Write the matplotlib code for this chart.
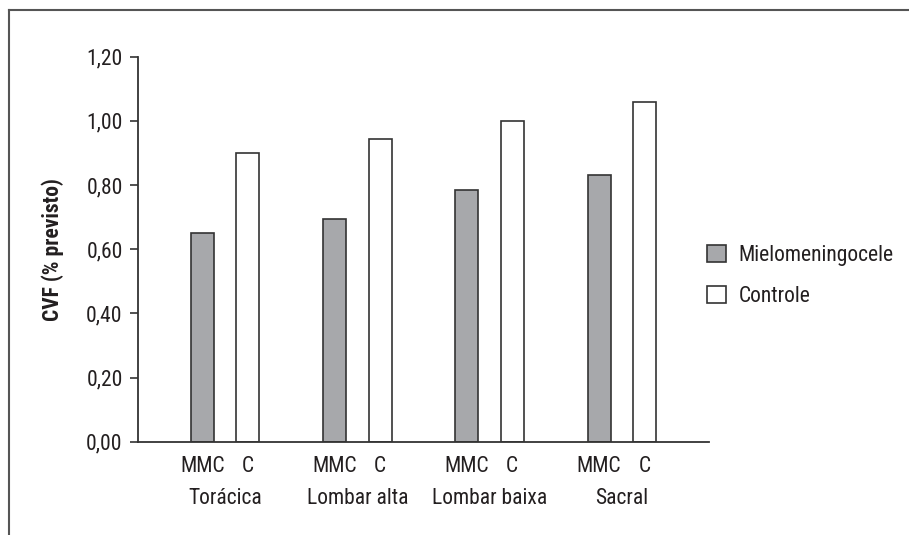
import matplotlib.pyplot as plt
import numpy as np
from matplotlib import font_manager
from matplotlib.lines import Line2D
from matplotlib.patches import Patch

# Fonte estreita se existir, senão Liberation Sans
fonte = 'Liberation Sans'
tam = 13.5
for nome in ['Liberation Sans Narrow', 'Roboto Condensed', 'Arial Narrow']:
    try:
        font_manager.findfont(nome, fallback_to_default=False)
        fonte = nome
        tam = 15.5
        break
    except Exception:
        pass
plt.rcParams['font.family'] = [fonte, 'DejaVu Sans']

# Dados
regioes = ['Torácica', 'Lombar alta', 'Lombar baixa', 'Sacral']
mmc = [0.65, 0.695, 0.785, 0.83]
controle = [0.90, 0.945, 1.00, 1.06]
rotulos_barras = ['MMC', 'C']
rotulos_y = ['0,00', '0,20', '0,40', '0,60', '0,80', '1,00', '1,20']

cinza = '#a7a8ab'
borda = '#333333'
texto = '#231f20'

fig = plt.figure(figsize=(9.09, 5.35), dpi=100)
ax = fig.add_axes([0.1518, 0.1744, 0.628, 0.7196])

x = np.arange(len(regioes))
desloc = 0.172
larg = 0.174
ax.bar(x - desloc, mmc, larg, color=cinza, edgecolor=borda, linewidth=1.2)
ax.bar(x + desloc, controle, larg, color='white', edgecolor=borda, linewidth=1.2)

ax.set_xlim(-0.658, 3.658)
ax.set_ylim(0, 1.2)
ax.set_yticks(np.arange(0, 1.21, 0.2))
ax.set_yticklabels(rotulos_y, fontsize=tam, color=texto)

pos = np.concatenate([x - desloc, x + desloc])
labs = [rotulos_barras[0]] * len(x) + [rotulos_barras[1]] * len(x)
ax.set_xticks(pos)
ax.set_xticklabels(labs, fontsize=tam, color=texto)
ax.tick_params(axis='x', length=0, pad=10)
ax.tick_params(axis='y', length=6, width=1.2, color=borda, pad=5)

for xi, nome in zip(x, regioes):
    ax.text(xi, -0.148, nome, transform=ax.get_xaxis_transform(),
            ha='center', va='center', fontsize=tam, color=texto)

for lado in ['top', 'right']:
    ax.spines[lado].set_visible(False)
for lado in ['left', 'bottom']:
    ax.spines[lado].set_color(borda)
    ax.spines[lado].set_linewidth(1.3)

ax.set_ylabel('CVF (% previsto)', fontsize=tam, fontweight='bold', color=texto, labelpad=16)

# Legenda
alcas = [Patch(facecolor=cinza, edgecolor=borda, linewidth=1.2),
         Patch(facecolor='white', edgecolor=borda, linewidth=1.2)]
fig.legend(alcas, ['Mielomeningocele', 'Controle'], loc='center left',
           bbox_to_anchor=(0.757, 0.484), frameon=False, fontsize=tam,
           handlelength=0.85, handleheight=0.85, handletextpad=0.6,
           labelspacing=0.95, labelcolor=texto)

# Moldura (topo e esquerda)
fig.add_artist(Line2D([8.5 / 909, 1.0], [1 - 9.5 / 535] * 2, color='#555555', linewidth=1.5))
fig.add_artist(Line2D([8.5 / 909] * 2, [0.0, 1 - 9.5 / 535], color='#555555', linewidth=1.5))

plt.savefig('out.png', dpi=100)
